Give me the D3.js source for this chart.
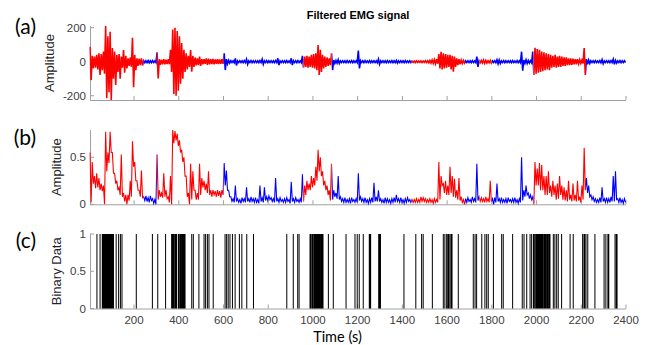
<!DOCTYPE html>
<html><head><meta charset="utf-8">
<script src="https://cdn.jsdelivr.net/npm/d3@7"></script>
<style>body{margin:0;background:#fff}svg{display:block}</style>
</head><body>
<svg id="chart" width="651" height="345"></svg>
<script>
// ---- data ----
const binSize = 10; // seconds per bin
// (a) filtered EMG: per-bin positive and negative peak
const aUp = [
 88,35,30,40,50,45,60,210,150,176,
 80,60,40,45,30,68,35,20,25,141,
 40,20,18,20,6,5,7,5,6,5,
 55,15,12,15,12,15,70,190,200,180,
 150,110,70,50,35,69,35,25,20,30,
 15,15,20,18,15,16,14,15,13,15,
 49,15,8,6,5,20,5,6,5,6,
 15,5,6,5,6,5,6,15,5,6,
 5,6,5,6,20,5,6,5,6,5,
 20,6,5,6,5,35,30,35,30,40,
 45,50,98,70,40,30,25,20,49,10,
 8,12,5,6,5,6,5,6,5,6,
 65,6,5,6,5,6,5,6,5,15,
 5,6,5,6,5,6,5,8,5,6,
 5,6,5,6,4,4,5,4,5,4,
 6,5,8,10,12,15,45,59,50,45,
 40,40,35,30,20,15,10,8,5,6,
 5,6,5,30,6,8,10,8,6,8,
 5,6,12,10,5,6,5,6,5,6,
 5,6,5,59,10,12,8,6,60,82,
 75,70,60,55,50,45,40,35,40,30,
 35,30,25,25,20,20,18,15,15,12,
 10,80,15,10,6,5,6,5,6,12,
 5,6,5,6,15,8,5,6,5,6];
const aDown = [
 -108,-40,-35,-45,-78,-50,-70,-214,-180,-225,
 -100,-137,-60,-100,-35,-65,-40,-25,-30,-150,
 -50,-25,-20,-22,-6,-5,-6,-6,-5,-5,
 -98,-18,-15,-15,-14,-15,-60,-190,-200,-170,
 -130,-100,-60,-45,-30,-59,-30,-22,-20,-25,
 -15,-12,-18,-15,-14,-15,-12,-14,-12,-13,
 -49,-12,-8,-5,-6,-22,-5,-5,-6,-5,
 -15,-5,-6,-5,-5,-6,-5,-15,-5,-6,
 -5,-5,-6,-5,-20,-5,-5,-6,-5,-5,
 -20,-5,-6,-5,-5,-35,-30,-35,-30,-35,
 -40,-50,-78,-60,-40,-30,-25,-20,-49,-10,
 -8,-10,-5,-5,-6,-5,-5,-6,-5,-5,
 -39,-5,-6,-5,-5,-6,-5,-5,-6,-15,
 -5,-5,-6,-5,-5,-6,-5,-8,-5,-5,
 -6,-5,-5,-5,-4,-5,-4,-4,-5,-4,
 -5,-6,-8,-10,-12,-12,-40,-45,-40,-35,
 -30,-45,-59,-30,-20,-15,-10,-8,-5,-5,
 -6,-5,-5,-30,-6,-7,-10,-8,-6,-8,
 -5,-5,-12,-10,-5,-6,-5,-5,-6,-5,
 -5,-6,-5,-53,-10,-10,-8,-6,-78,-70,
 -65,-60,-55,-50,-45,-50,-35,-30,-35,-30,
 -30,-25,-25,-20,-20,-18,-15,-15,-12,-10,
 -10,-78,-15,-10,-5,-6,-5,-5,-6,-12,
 -5,-5,-6,-5,-15,-8,-5,-6,-5,-5];
// (b) envelope: per-bin high and low
const bHi = [
 0.55,0.45,0.30,0.33,0.28,0.22,0.20,0.77,0.55,0.77,
 0.55,0.33,0.25,0.18,0.53,0.12,0.10,0.10,0.25,0.67,
 0.45,0.25,0.15,0.36,0.08,0.09,0.07,0.09,0.06,0.05,
 0.53,0.15,0.12,0.33,0.15,0.08,0.30,0.79,0.78,0.75,
 0.68,0.58,0.50,0.30,0.12,0.43,0.35,0.15,0.12,0.43,
 0.28,0.25,0.22,0.35,0.15,0.15,0.14,0.15,0.14,0.15,
 0.44,0.36,0.15,0.08,0.06,0.20,0.06,0.05,0.07,0.06,
 0.18,0.06,0.08,0.06,0.07,0.05,0.20,0.07,0.18,0.08,
 0.09,0.07,0.06,0.28,0.06,0.07,0.05,0.06,0.07,0.05,
 0.24,0.06,0.07,0.05,0.06,0.32,0.20,0.25,0.22,0.30,
 0.28,0.40,0.58,0.50,0.35,0.25,0.20,0.15,0.43,0.15,
 0.12,0.30,0.08,0.06,0.07,0.05,0.06,0.07,0.05,0.06,
 0.33,0.08,0.06,0.07,0.05,0.06,0.07,0.23,0.08,0.15,
 0.06,0.05,0.07,0.06,0.05,0.06,0.07,0.10,0.06,0.07,
 0.05,0.06,0.07,0.05,0.05,0.05,0.06,0.05,0.08,0.07,
 0.06,0.05,0.06,0.05,0.06,0.05,0.45,0.30,0.22,0.25,
 0.20,0.40,0.30,0.27,0.15,0.28,0.08,0.05,0.06,0.07,
 0.05,0.08,0.06,0.43,0.08,0.07,0.06,0.08,0.06,0.25,
 0.06,0.07,0.22,0.06,0.07,0.05,0.06,0.07,0.05,0.06,
 0.07,0.05,0.06,0.50,0.15,0.20,0.12,0.10,0.08,0.45,
 0.38,0.44,0.42,0.30,0.30,0.35,0.20,0.25,0.20,0.22,
 0.30,0.20,0.18,0.15,0.25,0.10,0.22,0.10,0.25,0.08,
 0.20,0.60,0.28,0.20,0.10,0.08,0.06,0.05,0.07,0.18,
 0.06,0.07,0.06,0.08,0.30,0.35,0.06,0.07,0.05,0.06];
const bLo = [
 0.02,0.22,0.17,0.18,0.15,0.14,0.00,0.35,0.44,0.55,
 0.33,0.22,0.15,0.10,0.08,0.03,0.00,0.04,0.08,0.40,
 0.25,0.15,0.08,0.07,0.04,0.03,0.02,0.04,0.01,0.00,
 0.05,0.08,0.07,0.08,0.06,0.02,0.00,0.65,0.68,0.62,
 0.55,0.45,0.30,0.08,0.00,0.05,0.15,0.05,0.05,0.10,
 0.18,0.15,0.12,0.10,0.08,0.10,0.08,0.09,0.07,0.10,
 0.20,0.15,0.08,0.03,0.02,0.03,0.02,0.01,0.03,0.02,
 0.03,0.02,0.03,0.02,0.02,0.01,0.03,0.02,0.04,0.04,
 0.05,0.03,0.02,0.03,0.02,0.03,0.02,0.02,0.03,0.01,
 0.03,0.02,0.03,0.02,0.02,0.03,0.10,0.15,0.15,0.18,
 0.20,0.25,0.35,0.30,0.20,0.15,0.10,0.04,0.05,0.08,
 0.06,0.05,0.03,0.02,0.02,0.02,0.01,0.03,0.02,0.02,
 0.04,0.03,0.02,0.02,0.01,0.02,0.02,0.03,0.03,0.03,
 0.02,0.01,0.02,0.02,0.01,0.02,0.02,0.03,0.02,0.02,
 0.01,0.02,0.03,0.02,0.02,0.02,0.02,0.02,0.03,0.03,
 0.02,0.02,0.02,0.01,0.02,0.02,0.05,0.20,0.12,0.10,
 0.10,0.12,0.08,0.07,0.05,0.04,0.02,0.00,0.02,0.03,
 0.02,0.03,0.02,0.04,0.03,0.03,0.02,0.03,0.02,0.03,
 0.00,0.02,0.03,0.02,0.02,0.02,0.01,0.03,0.02,0.02,
 0.02,0.01,0.02,0.04,0.08,0.10,0.06,0.05,0.00,0.20,
 0.20,0.15,0.15,0.10,0.10,0.12,0.08,0.10,0.05,0.06,
 0.10,0.05,0.04,0.03,0.05,0.03,0.04,0.03,0.04,0.02,
 0.05,0.15,0.12,0.08,0.05,0.03,0.02,0.02,0.02,0.03,
 0.02,0.02,0.02,0.03,0.03,0.05,0.02,0.02,0.01,0.02];
// activity segments (start time, colour)
const segStarts = [0,241,302,599,957,1084,1442,1680,1744,1800,1986,2221];
const segColors = ["red","blue","red","blue","red","blue","red","blue","red","blue","red","blue"];
// (c) binary data: intervals (s) where value = 1
const binaryOn = [[34,34],[48,48],[58,108],[120,120],[131,131],[139,139],[146,146],[210,210],[282,282],[306,306],[341,341],[368,378],[382,390],[398,402],[406,412],[416,428],[458,458],[465,465],[490,490],[513,513],[520,520],[528,528],[535,535],[554,554],[607,607],[614,614],[621,621],[629,629],[640,640],[652,652],[671,671],[682,682],[704,704],[734,734],[883,883],[912,912],[932,932],[938,938],[987,990],[995,1000],[1004,1012],[1016,1030],[1034,1045],[1069,1069],[1091,1091],[1148,1148],[1188,1188],[1198,1198],[1207,1207],[1225,1225],[1252,1258],[1294,1302],[1407,1407],[1460,1460],[1486,1486],[1493,1493],[1534,1534],[1583,1583],[1590,1590],[1598,1598],[1603,1608],[1613,1613],[1618,1622],[1650,1650],[1717,1717],[1725,1725],[1732,1732],[1755,1755],[1769,1769],[1777,1777],[1784,1784],[1807,1807],[1844,1844],[1851,1851],[1893,1893],[1936,1936],[1944,1944],[1956,1956],[1971,1971],[1978,1978],[1986,1990],[1996,2000],[2004,2030],[2034,2040],[2045,2050],[2054,2060],[2075,2075],[2082,2082],[2090,2090],[2097,2097],[2112,2112],[2150,2150],[2164,2164],[2206,2206],[2212,2216],[2221,2221],[2229,2229],[2261,2261],[2302,2302],[2310,2310],[2319,2323],[2351,2351],[2356,2360]];
const xTicks = [200,400,600,800,1000,1200,1400,1600,1800,2000,2200,2400];
const xTickLabels = ["200","400","600","800","1000","1200","1400","1600","1800","2000","2200","2400"];
const aTicks = [-200,0,200], aTickLabels = ["-200","0","200"];
const bTicks = [0,0.5], bTickLabels = ["0","0.5"];
const cTicks = [0,0.5,1], cTickLabels = ["0","0.5","1"];

// ---- drawing ----
const svg = d3.select("#chart");
const tEnd = 2400;
const x = d3.scaleLinear().domain([3, 2400]).range([90, 626]);
const panels = [
  {key:"a", y: d3.scaleLinear().domain([-225, 210]).range([100, 26]), ticks:aTicks, labels:aTickLabels, ylab:"Amplitude", ylabX:54, ylabSize:13, ylabColor:"#262626", tag:"(a)", tagY:34},
  {key:"b", y: d3.scaleLinear().domain([0, 0.79]).range([204.3, 130]), ticks:bTicks, labels:bTickLabels, ylab:"Amplitude", ylabX:61, ylabSize:13, ylabColor:"#262626", tag:"(b)", tagY:145},
  {key:"c", y: d3.scaleLinear().domain([0, 1]).range([308.5, 234]), ticks:cTicks, labels:cTickLabels, ylab:"Binary Data", ylabX:61, ylabSize:13, ylabColor:"#1f1f33", tag:"(c)", tagY:248}
];
const axisCol = "#a0a0a0", tickTextCol = "#404040";
const font = "'Liberation Sans', Arial, Helvetica, sans-serif";

// segment clip paths
const defs = svg.append("defs");
const segs = segStarts.map((s,i)=>({s, e: i+1<segStarts.length?segStarts[i+1]:tEnd, c: segColors[i]}));
["red","blue"].forEach(col=>{
  const cp = defs.append("clipPath").attr("id","clip-"+col);
  segs.filter(d=>d.c===col).forEach(d=>{
    cp.append("rect").attr("x", x(d.s)).attr("y",0).attr("width", x(d.e)-x(d.s)).attr("height",345);
  });
});

panels.forEach(p=>{
  const g = svg.append("g");
  const [y0,y1] = p.y.range();
  // axes
  g.append("line").attr("x1",90).attr("x2",626).attr("y1",y0+0.5).attr("y2",y0+0.5).attr("stroke",axisCol).attr("stroke-width",1);
  g.append("line").attr("x1",90.5).attr("x2",90.5).attr("y1",y1).attr("y2",y0+0.5).attr("stroke",axisCol).attr("stroke-width",1);
  xTicks.forEach(t=>{
    g.append("line").attr("x1",x(t)).attr("x2",x(t)).attr("y1",y0).attr("y2",y0-4).attr("stroke",axisCol);
  });
  p.ticks.forEach((t,i)=>{
    g.append("line").attr("x1",90).attr("x2",94).attr("y1",p.y(t)).attr("y2",p.y(t)).attr("stroke",axisCol);
    g.append("text").attr("x",86).attr("y",p.y(t)).attr("dy","0.36em").attr("text-anchor","end")
      .attr("font-family",font).attr("font-size","11.5px").attr("fill",tickTextCol).text(p.labels[i]);
  });
  // y label
  g.append("text").attr("transform",`translate(${p.ylabX},${(y0+y1)/2}) rotate(-90)`).attr("text-anchor","middle")
    .attr("font-family",font).attr("font-size",p.ylabSize+"px").attr("fill",p.ylabColor).text(p.ylab);
  // panel tag
  svg.append("text").attr("x",36).attr("y",p.tagY).attr("text-anchor","end")
    .attr("font-family","Lato, 'Open Sans', sans-serif").attr("font-size","21px").attr("fill","#000").text(p.tag);
});

// (a) signal as zigzag between per-bin peaks
const pa = panels[0], pb = panels[1], pc = panels[2];
const aPts = aUp.flatMap((u,i)=>[[i*binSize+3, u],[i*binSize+8, aDown[i]]]);
const bPts = bHi.flatMap((h,i)=>[[i*binSize+3, h],[i*binSize+8, bLo[i]]]);
const lineA = d3.line().x(d=>x(d[0])).y(d=>pa.y(d[1]));
const lineB = d3.line().x(d=>x(d[0])).y(d=>pb.y(d[1]));
["blue","red"].forEach(col=>{
  const stroke = col==="red" ? "#ff0000" : "#0000ff";
  svg.append("path").attr("d", lineA(aPts)).attr("fill","none").attr("stroke",stroke).attr("stroke-width",1.6).attr("stroke-linejoin","miter").attr("clip-path",`url(#clip-${col})`);
  svg.append("path").attr("d", lineB(bPts)).attr("fill","none").attr("stroke",stroke).attr("stroke-width",1.1).attr("clip-path",`url(#clip-${col})`);
});

// (c) binary bars
svg.append("g").selectAll("rect").data(binaryOn).join("rect")
  .attr("x", d=>x(d[0])-0.5)
  .attr("width", d=>Math.max(1, x(d[1])-x(d[0])+1))
  .attr("y", pc.y(1)).attr("height", pc.y(0)-pc.y(1))
  .attr("fill","#000");

// x tick labels (bottom panel)
xTicks.forEach((t,i)=>{
  svg.append("text").attr("x",x(t)).attr("y",324).attr("text-anchor","middle")
    .attr("font-family",font).attr("font-size","11.5px").attr("fill",tickTextCol).text(xTickLabels[i]);
});
// x label
svg.append("text").attr("x",337.5).attr("y",342).attr("text-anchor","middle")
  .attr("font-family","Lato, 'Open Sans', sans-serif").attr("font-size","14.5px").attr("fill","#000").text("Time (s)");
// title
svg.append("text").attr("x",358).attr("y",19).attr("text-anchor","middle")
  .attr("font-family",font).attr("font-weight","bold").attr("font-size","11px").attr("fill","#000").text("Filtered EMG signal");
</script>
</body></html>
